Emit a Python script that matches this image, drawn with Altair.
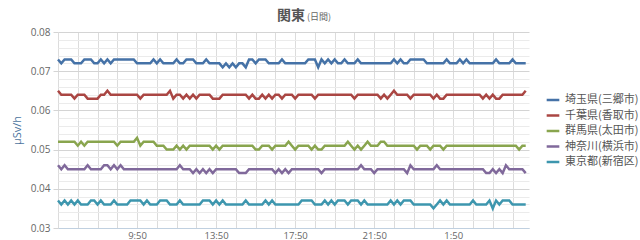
import altair as alt
import pandas as pd

series_names = ["埼玉県(三郷市)", "千葉県(香取市)", "群馬県(太田市)", "神奈川(横浜市)", "東京都(新宿区)"]
series_colors = ["#4572A7", "#AA4643", "#89A54E", "#80699B", "#3D96AE"]

# readings every 10 minutes, 5:50 -> 5:30 next day (μSv/h)
saitama = [
    0.073, 0.072, 0.073, 0.073, 0.073, 0.072, 0.072, 0.072, 0.073, 0.073,
    0.073, 0.072, 0.072, 0.073, 0.072, 0.073, 0.072, 0.073, 0.073, 0.073,
    0.073, 0.073, 0.073, 0.073, 0.072, 0.072, 0.072, 0.072, 0.072, 0.073,
    0.072, 0.073, 0.072, 0.072, 0.072, 0.072, 0.073, 0.072, 0.072, 0.073,
    0.073, 0.073, 0.072, 0.072, 0.072, 0.073, 0.072, 0.072, 0.072, 0.072,
    0.071, 0.072, 0.071, 0.072, 0.071, 0.072, 0.072, 0.071, 0.073, 0.073,
    0.072, 0.073, 0.073, 0.073, 0.072, 0.072, 0.072, 0.072, 0.073, 0.072,
    0.072, 0.072, 0.072, 0.072, 0.072, 0.072, 0.073, 0.073, 0.073, 0.071,
    0.073, 0.072, 0.073, 0.072, 0.073, 0.072, 0.072, 0.073, 0.072, 0.072,
    0.072, 0.073, 0.072, 0.072, 0.072, 0.072, 0.072, 0.072, 0.072, 0.072,
    0.072, 0.072, 0.073, 0.072, 0.073, 0.072, 0.072, 0.073, 0.073, 0.073,
    0.073, 0.073, 0.072, 0.072, 0.072, 0.072, 0.072, 0.072, 0.073, 0.072,
    0.072, 0.072, 0.073, 0.072, 0.073, 0.072, 0.072, 0.072, 0.072, 0.072,
    0.072, 0.072, 0.072, 0.073, 0.072, 0.072, 0.072, 0.072, 0.073, 0.072,
    0.072, 0.072, 0.072,
]
chiba = [
    0.065, 0.064, 0.064, 0.064, 0.064, 0.063, 0.064, 0.064, 0.064, 0.063,
    0.063, 0.063, 0.063, 0.064, 0.064, 0.065, 0.064, 0.064, 0.064, 0.064,
    0.064, 0.064, 0.064, 0.064, 0.064, 0.063, 0.064, 0.064, 0.064, 0.064,
    0.064, 0.064, 0.064, 0.064, 0.065, 0.063, 0.064, 0.064, 0.063, 0.064,
    0.063, 0.064, 0.063, 0.064, 0.064, 0.064, 0.064, 0.063, 0.063, 0.063,
    0.064, 0.064, 0.064, 0.064, 0.064, 0.064, 0.064, 0.064, 0.063, 0.064,
    0.063, 0.063, 0.064, 0.063, 0.064, 0.063, 0.064, 0.064, 0.063, 0.064,
    0.064, 0.064, 0.063, 0.064, 0.064, 0.064, 0.064, 0.064, 0.063, 0.064,
    0.064, 0.064, 0.064, 0.064, 0.064, 0.064, 0.064, 0.064, 0.064, 0.064,
    0.063, 0.064, 0.064, 0.064, 0.064, 0.064, 0.064, 0.064, 0.063, 0.064,
    0.063, 0.064, 0.065, 0.064, 0.064, 0.064, 0.064, 0.063, 0.064, 0.064,
    0.064, 0.064, 0.064, 0.064, 0.063, 0.064, 0.063, 0.063, 0.064, 0.064,
    0.064, 0.064, 0.064, 0.064, 0.064, 0.064, 0.064, 0.064, 0.064, 0.063,
    0.064, 0.063, 0.064, 0.063, 0.063, 0.064, 0.064, 0.064, 0.064, 0.064,
    0.064, 0.064, 0.065,
]
gunma = [
    0.052, 0.052, 0.052, 0.052, 0.052, 0.052, 0.051, 0.052, 0.051, 0.052,
    0.052, 0.052, 0.052, 0.052, 0.052, 0.052, 0.052, 0.052, 0.051, 0.052,
    0.052, 0.052, 0.052, 0.052, 0.053, 0.051, 0.052, 0.052, 0.052, 0.052,
    0.051, 0.051, 0.051, 0.050, 0.050, 0.050, 0.051, 0.050, 0.051, 0.050,
    0.051, 0.051, 0.051, 0.051, 0.051, 0.051, 0.051, 0.050, 0.051, 0.050,
    0.051, 0.051, 0.051, 0.051, 0.051, 0.051, 0.051, 0.051, 0.051, 0.051,
    0.050, 0.050, 0.051, 0.051, 0.051, 0.050, 0.051, 0.051, 0.051, 0.051,
    0.052, 0.051, 0.050, 0.051, 0.051, 0.051, 0.051, 0.050, 0.051, 0.050,
    0.050, 0.051, 0.051, 0.051, 0.051, 0.051, 0.051, 0.051, 0.052, 0.051,
    0.050, 0.051, 0.050, 0.051, 0.052, 0.051, 0.051, 0.051, 0.052, 0.052,
    0.051, 0.051, 0.051, 0.051, 0.051, 0.051, 0.051, 0.051, 0.051, 0.050,
    0.051, 0.051, 0.051, 0.050, 0.051, 0.051, 0.051, 0.050, 0.051, 0.051,
    0.051, 0.051, 0.051, 0.051, 0.051, 0.051, 0.051, 0.051, 0.051, 0.051,
    0.051, 0.051, 0.051, 0.051, 0.051, 0.051, 0.051, 0.051, 0.051, 0.051,
    0.050, 0.051, 0.051,
]
kanagawa = [
    0.046, 0.045, 0.046, 0.045, 0.045, 0.045, 0.045, 0.045, 0.045, 0.046,
    0.045, 0.045, 0.045, 0.045, 0.046, 0.046, 0.045, 0.046, 0.045, 0.046,
    0.045, 0.045, 0.045, 0.045, 0.045, 0.045, 0.045, 0.045, 0.045, 0.045,
    0.045, 0.045, 0.045, 0.045, 0.045, 0.045, 0.045, 0.046, 0.045, 0.045,
    0.045, 0.044, 0.045, 0.044, 0.045, 0.044, 0.045, 0.044, 0.045, 0.045,
    0.045, 0.045, 0.045, 0.045, 0.045, 0.044, 0.044, 0.044, 0.045, 0.045,
    0.045, 0.045, 0.045, 0.045, 0.045, 0.045, 0.044, 0.045, 0.044, 0.045,
    0.044, 0.045, 0.045, 0.045, 0.045, 0.045, 0.045, 0.045, 0.045, 0.045,
    0.044, 0.045, 0.045, 0.045, 0.045, 0.045, 0.045, 0.045, 0.045, 0.045,
    0.045, 0.045, 0.046, 0.045, 0.045, 0.045, 0.044, 0.045, 0.045, 0.045,
    0.045, 0.045, 0.045, 0.045, 0.045, 0.045, 0.044, 0.046, 0.045, 0.045,
    0.045, 0.045, 0.045, 0.045, 0.045, 0.046, 0.045, 0.045, 0.045, 0.045,
    0.045, 0.045, 0.045, 0.045, 0.045, 0.045, 0.045, 0.045, 0.045, 0.045,
    0.044, 0.044, 0.045, 0.044, 0.045, 0.044, 0.046, 0.045, 0.045, 0.045,
    0.045, 0.045, 0.044,
]
tokyo = [
    0.037, 0.036, 0.037, 0.036, 0.037, 0.036, 0.037, 0.036, 0.036, 0.036,
    0.037, 0.037, 0.036, 0.037, 0.036, 0.036, 0.036, 0.037, 0.036, 0.036,
    0.036, 0.036, 0.037, 0.037, 0.037, 0.037, 0.036, 0.037, 0.036, 0.036,
    0.036, 0.037, 0.037, 0.037, 0.036, 0.036, 0.036, 0.037, 0.036, 0.036,
    0.036, 0.036, 0.036, 0.036, 0.037, 0.037, 0.037, 0.036, 0.037, 0.036,
    0.037, 0.036, 0.036, 0.036, 0.036, 0.036, 0.036, 0.037, 0.036, 0.036,
    0.036, 0.036, 0.036, 0.037, 0.036, 0.037, 0.036, 0.036, 0.036, 0.036,
    0.036, 0.036, 0.036, 0.036, 0.037, 0.037, 0.037, 0.037, 0.036, 0.036,
    0.036, 0.037, 0.036, 0.037, 0.036, 0.037, 0.037, 0.037, 0.036, 0.037,
    0.037, 0.037, 0.036, 0.037, 0.036, 0.036, 0.036, 0.036, 0.036, 0.036,
    0.036, 0.037, 0.036, 0.037, 0.036, 0.037, 0.037, 0.037, 0.036, 0.036,
    0.036, 0.036, 0.036, 0.036, 0.035, 0.036, 0.037, 0.036, 0.037, 0.036,
    0.036, 0.036, 0.036, 0.036, 0.036, 0.036, 0.037, 0.036, 0.036, 0.036,
    0.036, 0.037, 0.035, 0.037, 0.036, 0.037, 0.037, 0.037, 0.036, 0.036,
    0.036, 0.036, 0.036,
]

y_ticks = [0.030, 0.032, 0.034, 0.036, 0.038, 0.040, 0.042, 0.044, 0.046, 0.048,
           0.050, 0.052, 0.054, 0.056, 0.058, 0.060, 0.062, 0.064, 0.066, 0.068,
           0.070, 0.072, 0.074, 0.076, 0.078, 0.080]

times = pd.date_range("2011-05-01 05:50", periods=len(saitama), freq="10min")
x_ticks = [alt.DateTime(year=2011, month=5, date=1 + (5 + h) // 24, hours=(5 + h) % 24, minutes=50)
           for h in range(24)]

rows = []
for name, vals in zip(series_names, [saitama, chiba, gunma, kanagawa, tokyo]):
    for t, v in zip(times, vals):
        rows.append({"time": t.strftime("%Y-%m-%dT%H:%M:%S"), "series": name, "value": v})
df = pd.DataFrame(rows)

FONT = "Open Sans"
CJK = "Noto Sans CJK JP"

major_test = "round(datum.value*1000) % 10 == 0"

lines = alt.Chart(df).mark_line(strokeWidth=2.5, clip=False).encode(
    x=alt.X("time:T",
            scale=alt.Scale(domain=[alt.DateTime(year=2011, month=5, date=1, hours=5, minutes=50),
                                    alt.DateTime(year=2011, month=5, date=2, hours=5, minutes=40)]),
            axis=alt.Axis(values=x_ticks, title=None,
                          labelExpr="hours(datum.value) % 4 == 1 && hours(datum.value) != 5 ? timeFormat(datum.value, '%-H:%M') : ''",
                          labelOverlap=False, labelFlush=False, ticks=False, labelPadding=2,
                          labelFont=FONT, labelFontSize=9.5, labelColor="#666666",
                          gridColor="#dcdcdc", gridWidth=1,
                          domainColor="#C0D0E0", domainWidth=1)),
    y=alt.Y("value:Q",
            scale=alt.Scale(domain=[0.03, 0.08], nice=False, zero=False),
            axis=alt.Axis(values=y_ticks, title="μSv/h",
                          labelExpr=major_test + " ? format(datum.value, '.2f') : ''",
                          labelOverlap=False, labelFont=FONT, labelFontSize=10,
                          labelColor="#666666", labelPadding=3,
                          gridColor=alt.condition(major_test, alt.value("#d4d4d4"), alt.value("#ebebeb")),
                          tickColor=alt.condition(major_test, alt.value("#d4d4d4"), alt.value("transparent")),
                          tickSize=5, domain=False,
                          titleFont=FONT, titleFontSize=11, titleFontWeight="normal",
                          titleColor="#4d759e", titlePadding=8)),
    color=alt.Color("series:N",
                    scale=alt.Scale(domain=series_names, range=series_colors),
                    legend=alt.Legend(orient="none", legendX=487, legendY=60, title=None,
                                      symbolType="stroke", symbolStrokeWidth=2.5, symbolSize=160,
                                      labelFont=CJK, labelFontSize=11, labelColor="#555555",
                                      rowPadding=2.5, labelOffset=4, padding=0)),
)

title_main = alt.Chart(pd.DataFrame({"t": ["関東"]})).mark_text(
    font=CJK, fontSize=14, fontWeight="bold", color="#555555", align="left", baseline="alphabetic"
).encode(text="t:N", x=alt.value(219), y=alt.value(-12))

title_sub = alt.Chart(pd.DataFrame({"t": ["(日間)"]})).mark_text(
    font=CJK, fontSize=9, color="#666666", align="left", baseline="alphabetic"
).encode(text="t:N", x=alt.value(249), y=alt.value(-12))

chart = alt.layer(lines, title_main, title_sub).properties(
    width=471, height=196,
    autosize="none",
    padding={"left": 58, "top": 32, "right": 111, "bottom": 12},
    background="white",
).configure_view(stroke=None)

chart.save("out.html", embed_options={"renderer": "svg", "actions": False})
